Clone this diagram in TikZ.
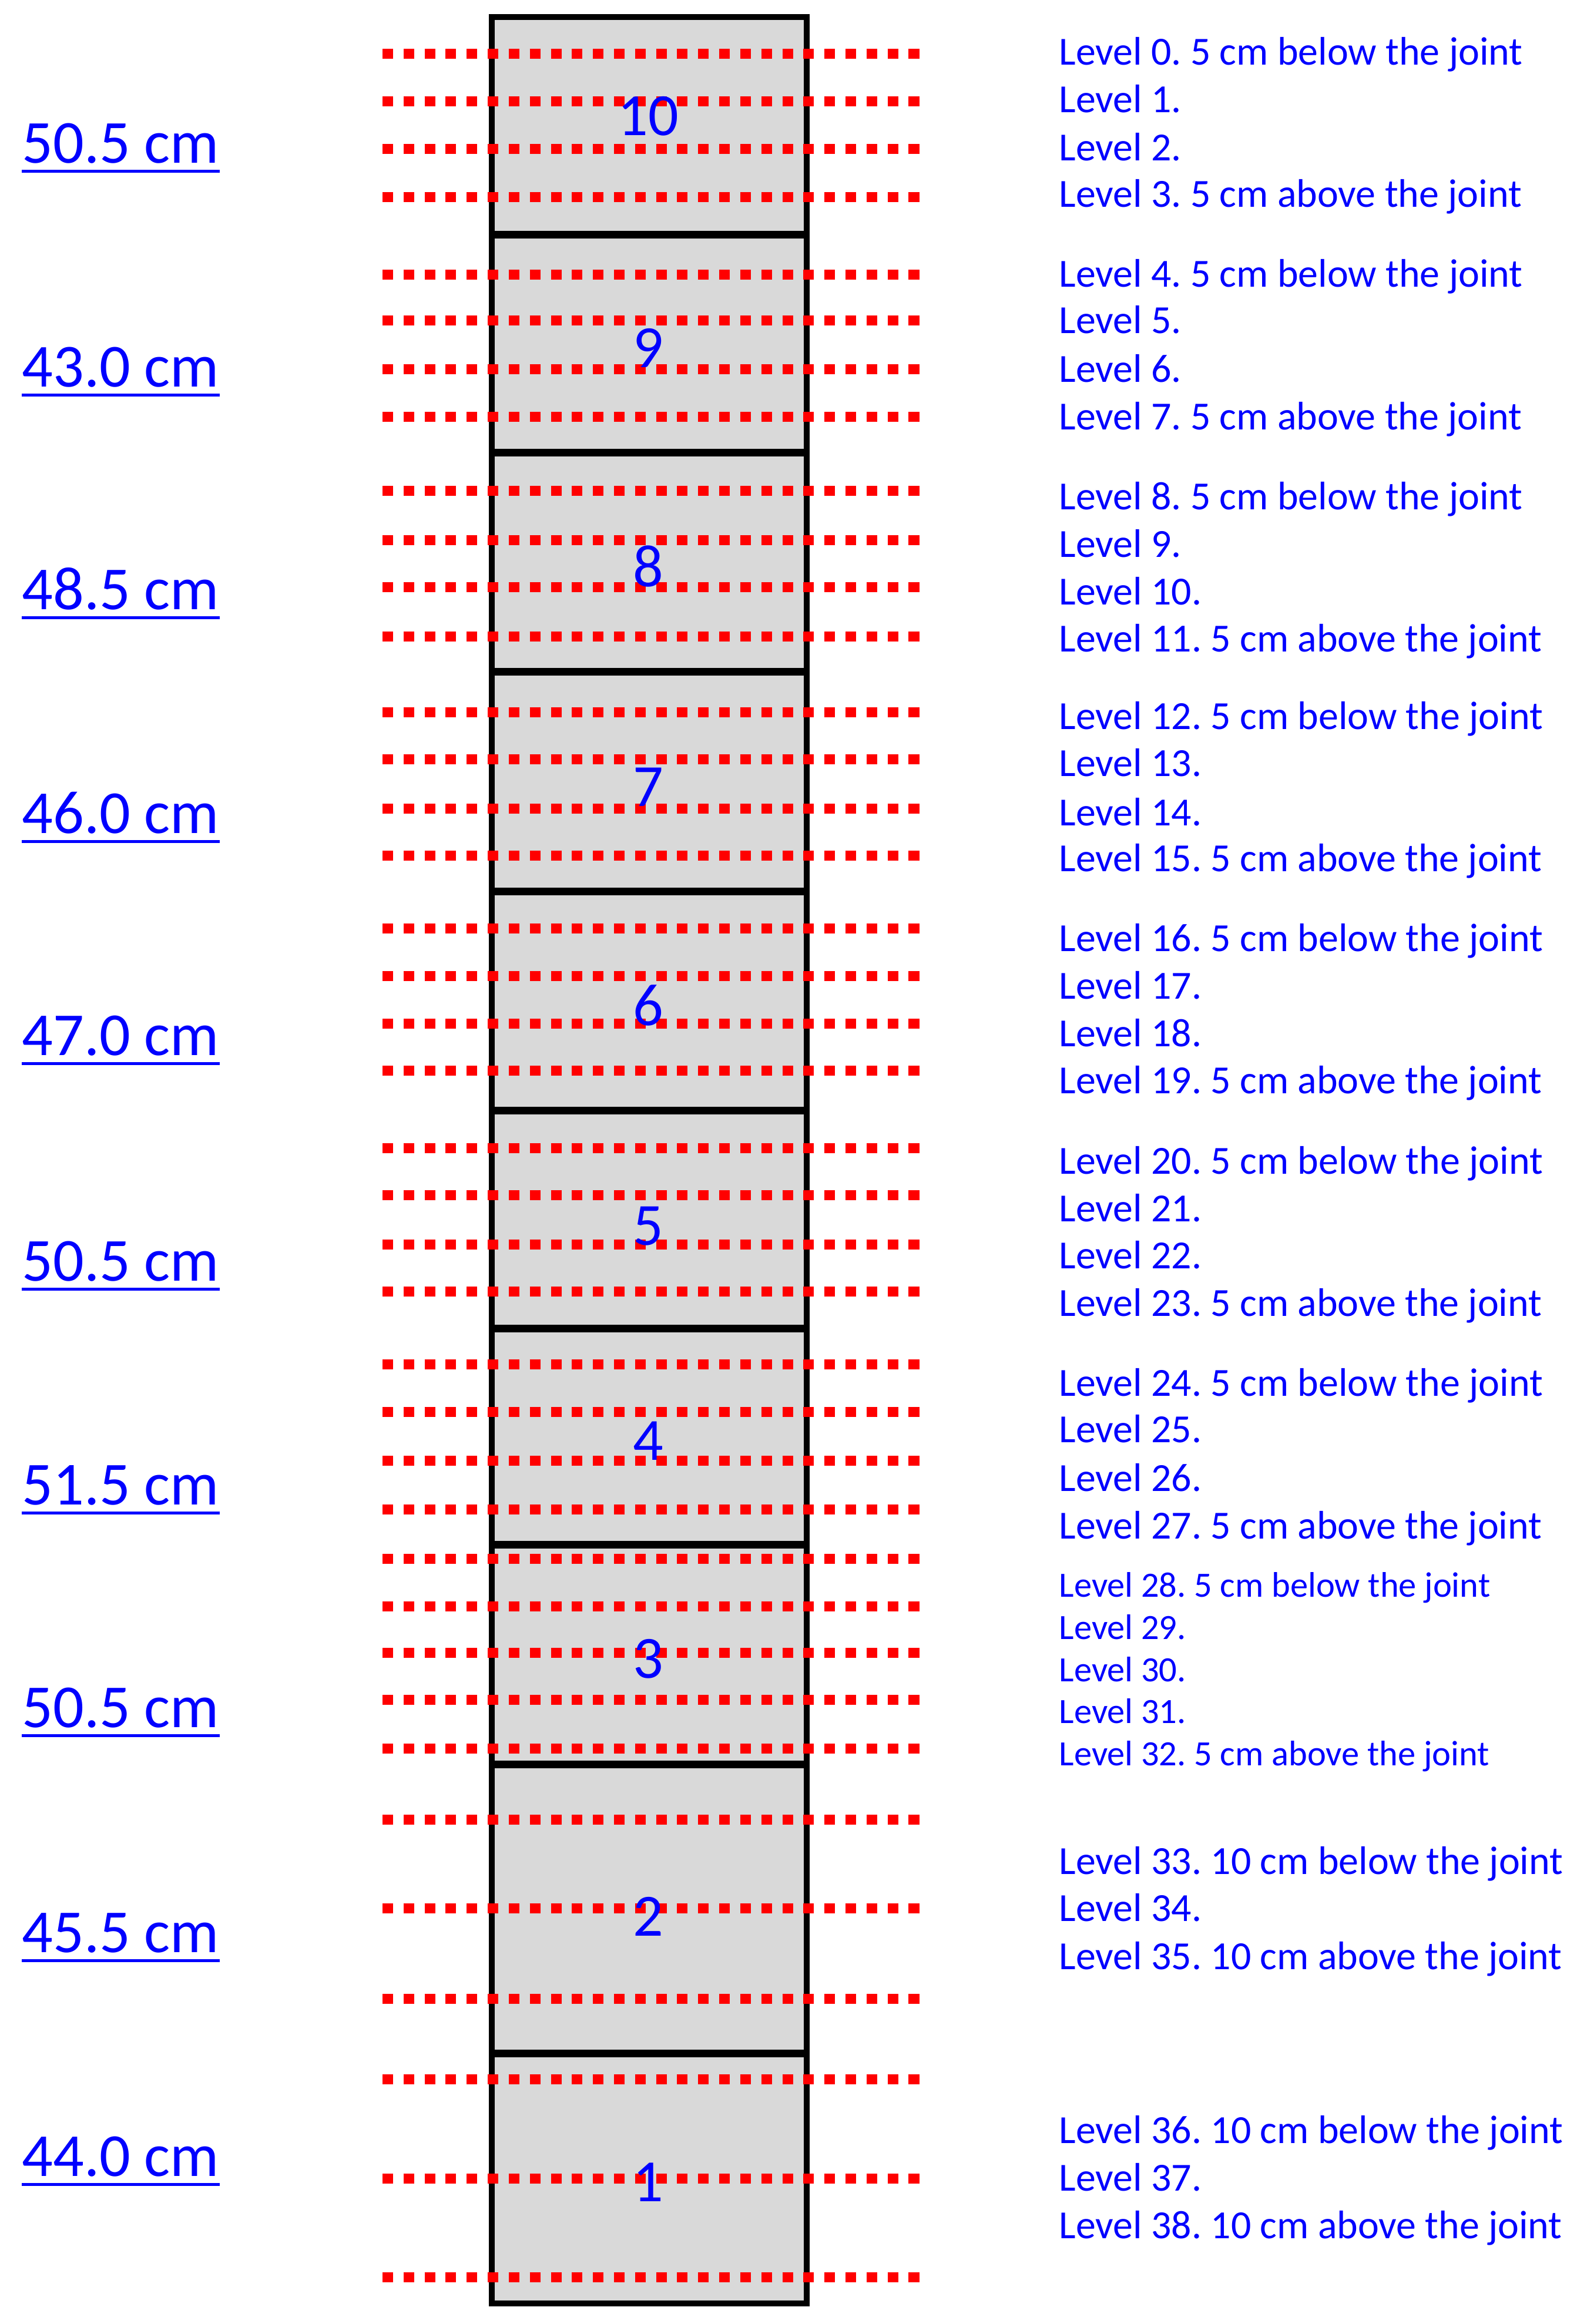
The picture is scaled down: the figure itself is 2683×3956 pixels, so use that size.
\documentclass[tikz,border=0pt]{standalone}
\usepackage{fontspec}
\setmainfont{Carlito}
\frenchspacing
\definecolor{txtblue}{RGB}{0,0,255}
\definecolor{segfill}{RGB}{217,217,217}
\definecolor{dotred}{RGB}{255,0,0}
\begin{document}
\frenchspacing
\begin{tikzpicture}[x=0.01cm,y=-0.01cm,
  segbox/.style={draw=black,line width=0.1cm,fill=segfill},
  dotline/.style={draw=dotred,line width=0.17cm,dash pattern=on 0.18cm off 0.178cm},
  lvl/.style={anchor=base west,inner sep=0pt,text=txtblue,font=\fontsize{19.3}{22}\selectfont},
  lvlsmall/.style={anchor=base west,inner sep=0pt,text=txtblue,font=\fontsize{17.2}{20}\selectfont},
  num/.style={anchor=base,inner sep=0pt,text=txtblue,font=\fontsize{29}{34}\selectfont},
  lenlab/.style={anchor=base west,inner sep=0pt,text=txtblue,font=\fontsize{29.6}{34}\selectfont},
  uline/.style={draw=txtblue,line width=0.05cm}]
\useasboundingbox (0,0) rectangle (2683,3956);
\fill[white] (0,0) rectangle (2683,3956);
% segments of the column
\foreach \sg/\ytop/\ybot in {10/27/399, 9/399/770, 8/770/1143, 7/1143/1517, 6/1517/1890, 5/1890/2261, 4/2261/2629, 3/2629/3003, 2/3003/3495, 1/3495/3922}
  \draw[segbox] (837,\ytop+1.5) rectangle (1373,\ybot-1.5);
% red dotted measuring levels
\foreach \yy in {91,172,253,335, 467,545,628,709, 835,919,999,1083, 1212,1292,1376,1456, 1580,1661,1742,1822, 1954,2034,2118,2198, 2322,2403,2486,2569, 2653,2734,2813,2893,2976, 3097,3248,3402, 3539,3708,3876}
  \draw[dotline] (651,\yy) -- (1565,\yy);
% segment numbers
\foreach \sg/\yy in {10/230, 9/625, 8/998, 7/1372, 6/1745, 5/2119, 4/2485, 3/2856, 2/3295, 1/3747}
  \node[num] (num\sg) at (1103,\yy) {\sg};
% segment lengths
\foreach \k/\yy/\lab in {1/277/50.5, 2/658/43.0, 3/1037/48.5, 4/1418/46.0, 5/1796/47.0, 6/2180/50.5, 7/2561/51.5, 8/2940/50.5, 9/3323/45.5, 10/3704/44.0}
{
  \node[lenlab] (len\k) at (37,\yy) {\lab\ cm};
  \draw[uline] ([yshift=-0.14cm]len\k.base west) -- ([yshift=-0.14cm]len\k.base east);
}
% level descriptions
\node[lvl] (lv0) at (1802,110) {Level 0. 5 cm below the joint};
\node[lvl] (lv1) at (1802,191) {Level 1.};
\node[lvl] (lv2) at (1802,273) {Level 2.};
\node[lvl] (lv3) at (1802,352) {Level 3. 5 cm above the joint};
\node[lvl] (lv4) at (1802,488) {Level 4. 5 cm below the joint};
\node[lvl] (lv5) at (1802,567) {Level 5.};
\node[lvl] (lv6) at (1802,650) {Level 6.};
\node[lvl] (lv7) at (1802,731) {Level 7. 5 cm above the joint};
\node[lvl] (lv8) at (1802,867) {Level 8. 5 cm below the joint};
\node[lvl] (lv9) at (1802,948) {Level 9.};
\node[lvl] (lv10) at (1802,1029) {Level 10.};
\node[lvl] (lv11) at (1802,1109) {Level 11. 5 cm above the joint};
\node[lvl] (lv12) at (1802,1241) {Level 12. 5 cm below the joint};
\node[lvl] (lv13) at (1802,1321) {Level 13.};
\node[lvl] (lv14) at (1802,1405) {Level 14.};
\node[lvl] (lv15) at (1802,1483) {Level 15. 5 cm above the joint};
\node[lvl] (lv16) at (1802,1619) {Level 16. 5 cm below the joint};
\node[lvl] (lv17) at (1802,1700) {Level 17.};
\node[lvl] (lv18) at (1802,1781) {Level 18.};
\node[lvl] (lv19) at (1802,1861) {Level 19. 5 cm above the joint};
\node[lvl] (lv20) at (1802,1998) {Level 20. 5 cm below the joint};
\node[lvl] (lv21) at (1802,2079) {Level 21.};
\node[lvl] (lv22) at (1802,2159) {Level 22.};
\node[lvl] (lv23) at (1802,2240) {Level 23. 5 cm above the joint};
\node[lvl] (lv24) at (1802,2376) {Level 24. 5 cm below the joint};
\node[lvl] (lv25) at (1802,2455) {Level 25.};
\node[lvl] (lv26) at (1802,2538) {Level 26.};
\node[lvl] (lv27) at (1802,2619) {Level 27. 5 cm above the joint};
\node[lvlsmall] (lv28) at (1802,2718) {Level 28. 5 cm below the joint};
\node[lvlsmall] (lv29) at (1802,2790) {Level 29.};
\node[lvlsmall] (lv30) at (1802,2862) {Level 30.};
\node[lvlsmall] (lv31) at (1802,2933) {Level 31.};
\node[lvlsmall] (lv32) at (1802,3005) {Level 32. 5 cm above the joint};
\node[lvl] (lv33) at (1802,3190) {Level 33. 10 cm below the joint};
\node[lvl] (lv34) at (1802,3270) {Level 34.};
\node[lvl] (lv35) at (1802,3352) {Level 35. 10 cm above the joint};
\node[lvl] (lv36) at (1802,3648) {Level 36. 10 cm below the joint};
\node[lvl] (lv37) at (1802,3729) {Level 37.};
\node[lvl] (lv38) at (1802,3810) {Level 38. 10 cm above the joint};
\end{tikzpicture}
\end{document}
